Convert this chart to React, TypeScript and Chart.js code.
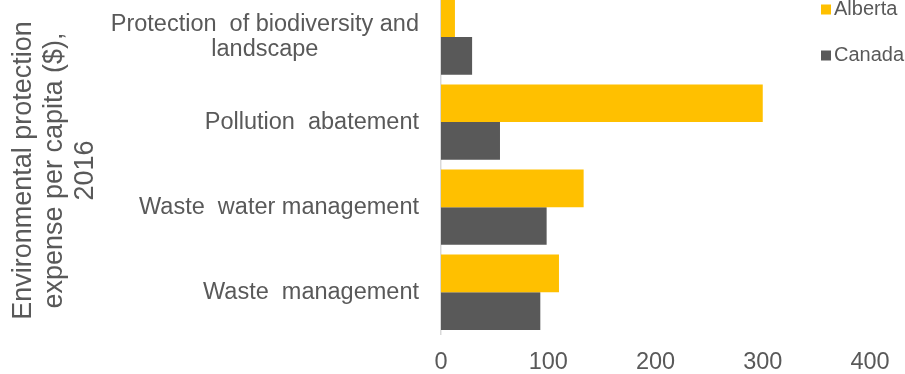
import React, { useEffect, useRef } from 'react';
import { Chart, registerables } from 'chart.js';

Chart.register(...registerables);

// ---- data ----
const categories: string[][] = [
  ['Protection  of biodiversity and', 'landscape'],
  ['Pollution  abatement'],
  ['Waste  water management'],
  ['Waste  management'],
];
const albertaValues: number[] = [13, 300, 133, 110];
const canadaValues: number[] = [29, 55, 98.5, 92.6];
const seriesNames: string[] = ['Alberta', 'Canada'];
const xTickValues: number[] = [0, 100, 200, 300, 400];
const yTitleLines: string[] = ['Environmental protection', 'expense per capita ($),', '2016'];

// ---- styles ----
const W = 905;
const SHIFT = 20; // chart top is cropped in the reference
const H = 374 + SHIFT;
const FONT = '"Liberation Sans", Arial, sans-serif';
const TEXT = '#595959';
const YELLOW = '#FFC000';
const GREY = '#595959';
const TICK_FS = 23.5;
const TITLE_FS = 27;
const LEGEND_FS = 20;

const yLabelPlugin = {
  id: 'yLabelPlugin',
  afterDraw(chart: any) {
    const { ctx } = chart;
    const yScale = chart.scales.y;
    ctx.save();
    ctx.font = `${TICK_FS}px ${FONT}`;
    ctx.fillStyle = TEXT;
    ctx.textBaseline = 'middle';
    ctx.textAlign = 'center';
    const right = chart.chartArea.left - 22;
    const lh = 25.5;
    (chart.data.labels as any[]).forEach((lab, i) => {
      const lines: string[] = Array.isArray(lab) ? lab : [lab];
      const w = Math.max(...lines.map((l) => ctx.measureText(l).width));
      const cx = right - w / 2;
      const cy = yScale.getPixelForValue(i);
      lines.forEach((l, j) => {
        ctx.fillText(l, cx, cy + (j - (lines.length - 1) / 2) * lh);
      });
    });
    // axis title
    ctx.font = `${TITLE_FS}px ${FONT}`;
    ctx.translate(0, 170.5 + SHIFT);
    ctx.rotate(-Math.PI / 2);
    yTitleLines.forEach((l, j) => {
      ctx.fillText(l, 0, 23.6 + j * 31);
    });
    ctx.restore();
  },
};

const legendPlugin = {
  id: 'customLegend',
  afterDraw(chart: any) {
    const { ctx } = chart;
    ctx.save();
    ctx.font = `${LEGEND_FS}px ${FONT}`;
    ctx.textBaseline = 'middle';
    ctx.textAlign = 'left';
    chart.data.datasets.forEach((ds: any, i: number) => {
      const cy = SHIFT + 9.5 + i * 46;
      ctx.fillStyle = ds.backgroundColor;
      ctx.fillRect(821, cy - 5, 10, 10);
      ctx.fillStyle = TEXT;
      ctx.fillText(ds.label, 834, cy);
    });
    ctx.restore();
  },
};

export default function App() {
  const ref = useRef<HTMLCanvasElement | null>(null);

  useEffect(() => {
    if (!ref.current) return;
    const chart = new Chart(ref.current, {
      type: 'bar',
      data: {
        labels: categories,
        datasets: [
          {
            label: seriesNames[0],
            data: albertaValues,
            backgroundColor: YELLOW,
            categoryPercentage: 0.885,
            barPercentage: 1,
          },
          {
            label: seriesNames[1],
            data: canadaValues,
            backgroundColor: GREY,
            categoryPercentage: 0.885,
            barPercentage: 1,
          },
        ],
      },
      options: {
        indexAxis: 'y',
        responsive: false,
        animation: false,
        devicePixelRatio: 1,
        layout: { padding: { top: 14.5, right: 35, left: 0, bottom: 0 } },
        plugins: {
          legend: { display: false },
          tooltip: { enabled: false },
          title: { display: false },
        },
        scales: {
          x: {
            type: 'linear',
            min: 0,
            max: 400,
            grid: { display: false },
            border: { display: false },
            afterBuildTicks: (scale: any) => {
              scale.ticks = xTickValues.map((v) => ({ value: v }));
            },
            afterFit: (scale: any) => {
              scale.height = H - 354.8;
            },
            ticks: {
              color: TEXT,
              font: { family: FONT, size: TICK_FS },
              padding: 6,
            },
          },
          y: {
            type: 'category',
            grid: { display: false },
            border: { display: true, color: '#D9D9D9', width: 1.5 },
            ticks: { display: false },
            afterFit: (scale: any) => {
              scale.width = 441;
            },
          },
        },
      },
      plugins: [yLabelPlugin, legendPlugin],
    });
    return () => chart.destroy();
  }, []);

  return (
    <div
      style={{
        position: 'fixed',
        left: 0,
        top: 0,
        width: W,
        height: 374,
        overflow: 'hidden',
        background: '#ffffff',
      }}
    >
      <div style={{ position: 'absolute', left: 0, top: -SHIFT, width: W, height: H }}>
        <canvas ref={ref} width={W} height={H} style={{ display: 'block' }} />
      </div>
    </div>
  );
}
